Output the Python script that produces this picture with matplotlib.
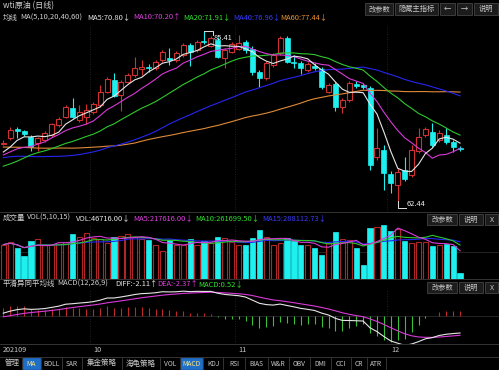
import numpy as np
import pandas as pd
import matplotlib
matplotlib.use('Agg')
import matplotlib.pyplot as plt
from matplotlib.patches import Rectangle

W, H = 499, 370
FONT = ['Noto Sans CJK SC', 'DejaVu Sans']
plt.rcParams['font.family'] = FONT

# ---------------- data ----------------
prior_closes = [71.64, 73.66, 73.06, 73.08, 73.30, 74.05, 72.91, 72.98, 73.47, 75.23,
                75.16, 73.37, 72.20, 72.94, 74.56, 74.10, 75.25, 73.13, 71.65, 71.81,
                66.42, 67.42, 70.30, 71.91, 72.07, 71.91, 71.65, 72.39, 73.62, 73.95,
                71.26, 70.56, 68.15, 69.09, 68.28, 66.48, 68.29, 69.25, 69.09, 68.44,
                67.29, 66.59, 65.46, 63.69, 62.32, 65.64, 67.54, 67.54, 67.42, 68.74,
                69.21, 68.50, 68.59, 69.99, 69.29, 68.35, 69.30, 68.14, 69.72, 70.45]

opens = [70.80, 71.48, 72.75, 72.43, 71.69, 70.84, 71.26, 71.90, 73.21, 74.29,
         75.42, 73.86, 74.29, 74.90, 75.81, 77.53, 79.05, 77.10, 78.83, 79.70,
         80.48, 80.75, 80.57, 81.65, 81.95, 81.65, 82.30, 83.59, 82.94, 84.05,
         83.50, 84.24, 81.87, 82.72, 83.07, 83.98, 83.07, 80.13, 79.31, 81.00,
         82.52, 84.54, 81.43, 81.26, 80.35, 80.91, 80.48, 77.50, 78.53, 75.59,
         76.46, 78.53, 78.40, 77.97, 69.02, 69.97, 66.85, 65.43, 67.37, 66.72,
         69.88, 71.91, 72.34, 71.26, 71.90, 71.04, 70.26]
highs = [71.20, 73.00, 73.00, 72.60, 71.90, 71.70, 72.40, 73.50, 74.30, 75.80,
         76.76, 75.80, 76.00, 76.20, 78.40, 79.50, 79.92, 79.00, 80.00, 82.08,
         81.60, 81.10, 81.70, 83.00, 83.20, 82.80, 83.90, 83.80, 84.30, 85.41,
         84.80, 84.60, 83.20, 84.00, 84.89, 84.30, 83.40, 80.40, 81.50, 82.60,
         84.80, 84.80, 82.30, 81.50, 81.40, 81.30, 80.80, 78.70, 78.80, 76.70,
         78.90, 78.90, 78.60, 78.30, 72.80, 70.60, 67.30, 67.60, 69.10, 70.60,
         72.80, 72.90, 73.47, 72.60, 72.80, 71.30, 70.50]
lows = [70.60, 71.30, 71.50, 71.80, 69.84, 69.90, 71.00, 71.70, 73.00, 74.10,
        74.10, 73.60, 73.40, 74.70, 75.60, 77.30, 76.80, 75.03, 78.60, 79.50,
        79.70, 80.10, 80.40, 81.40, 81.00, 81.40, 82.10, 80.91, 82.70, 83.70,
        83.30, 81.90, 80.61, 82.50, 82.90, 82.60, 79.70, 78.18, 79.00, 80.80,
        82.30, 81.20, 80.57, 79.83, 80.10, 80.30, 77.90, 77.30, 75.07, 74.77,
        76.20, 78.00, 77.90, 67.37, 68.67, 64.78, 64.39, 62.44, 65.90, 66.40,
        69.60, 71.60, 70.40, 71.00, 70.80, 69.75, 69.90]
closes = [70.90, 72.56, 72.45, 72.00, 70.39, 71.48, 72.17, 73.34, 73.99, 75.59,
          74.29, 74.90, 75.16, 75.94, 77.53, 79.18, 77.01, 78.83, 79.70, 80.65,
          80.78, 80.60, 81.43, 82.72, 81.61, 82.52, 83.59, 82.65, 84.02, 83.95,
          84.54, 82.08, 82.94, 83.68, 83.85, 82.94, 80.13, 79.35, 81.26, 82.30,
          84.54, 81.43, 81.22, 80.65, 81.13, 80.65, 78.18, 78.40, 75.59, 76.46,
          78.62, 78.27, 78.10, 68.02, 70.19, 66.94, 65.65, 67.15, 66.17, 69.97,
          71.62, 72.65, 70.62, 72.17, 71.04, 70.39, 70.06]
volumes = [265200, 286000, 239200, 176800, 291200, 312000, 265200, 260000, 273000, 286000,
           343200, 325000, 351000, 317200, 306800, 278200, 325000, 330200, 343200, 325000,
           306800, 299000, 260000, 213200, 304200, 265200, 265200, 312000, 265200, 293800,
           280800, 325000, 317200, 286000, 265200, 265200, 319800, 377000, 325000, 265200,
           278200, 319800, 291200, 260000, 265200, 239200, 182000, 278200, 364000, 306800,
           299000, 241800, 109200, 395200, 397800, 416000, 369200, 384800, 293800, 278200,
           286000, 286000, 254800, 265200, 267800, 254800, 46716]

month_labels = ['202109', '10', '11', '12']
month_start = [0, 13, 34, 56]

title_text = 'wti原油 (日线)'
ma_header = [('均线', '#d0d0d0'), ('MA(5,10,20,40,60)', '#d0d0d0'),
             ('MA5:70.80↓', '#e8e8e8'), ('MA10:70.20↑', '#e040e0'),
             ('MA20:71.91↓', '#30e030'), ('MA40:76.96↓', '#3a3aff'),
             ('MA60:77.44↓', '#e89030')]
ma_header_x = [3, 20, 87, 133, 183, 233, 280]
vol_header = [('成交量', '#d0d0d0'), ('VOL(5,10,15)', '#d0d0d0'),
              ('VOL:46716.00↓', '#e8e8e8'), ('MA5:217616.00↓', '#e040e0'),
              ('MA10:261699.50↓', '#30e030'), ('MA15:288112.73↓', '#3a3aff')]
vol_header_x = [3, 27, 76, 133, 195, 262]
macd_header = [('平滑异同平均线', '#d0d0d0'), ('MACD(12,26,9)', '#d0d0d0'),
               ('DIFF:-2.11↑', '#e8e8e8'), ('DEA:-2.37↑', '#e040e0'),
               ('MACD:0.52↓', '#30e030')]
macd_header_x = [3, 57, 115, 157, 198]
tabs = ['管理', 'MA', 'BOLL', 'SAR', '集金策略', '海龟策略', 'VOL', 'MACD', 'KDJ',
        'RSI', 'BIAS', 'W&R', 'OBV', 'DMI', 'CCI', 'CR', 'ATR']
tab_x = [2, 22, 41, 62, 82, 122, 160, 180, 203, 223, 245, 268, 289, 310, 331, 351, 367, 386]
tab_active = ['MA', 'MACD']

# ---------------- computations ----------------
n = len(closes)
x = np.arange(n)
o = np.array(opens); c = np.array(closes); hi = np.array(highs); lo = np.array(lows)
allc = pd.Series(prior_closes + closes)
mas = {k: allc.rolling(k).mean().values[-n:] for k in (5, 10, 20, 40, 60)}
ema12 = allc.ewm(span=12, adjust=False).mean()
ema26 = allc.ewm(span=26, adjust=False).mean()
diff = (ema12 - ema26)
dea = diff.ewm(span=9, adjust=False).mean()
macd = (2 * (diff - dea)).values[-n:]
diff = diff.values[-n:]; dea = dea.values[-n:]
vs = pd.Series(volumes)
vmas = {k: vs.rolling(k, min_periods=1).mean().values for k in (5, 10, 15)}

RED = '#d03030'
VRED = '#b02626'
CYAN = '#1ef0f0'
MA_COL = {5: '#e6e6e6', 10: '#d83ad8', 20: '#2ec82e', 40: '#2626f0', 60: '#e08a38'}
TXT = '#d0d0d0'
GRID = '#2a2a2a'

fig = plt.figure(figsize=(W / 100, H / 100), dpi=100, facecolor='black')

def ax_at(top, bottom):
    a = fig.add_axes([0, 1 - bottom / H, 1, (bottom - top) / H])
    a.set_facecolor('black')
    for s in a.spines.values():
        s.set_visible(False)
    a.set_xticks([]); a.set_yticks([])
    a.set_xlim(-3.3 / 6.92, (W - 3.3) / 6.92)
    return a

def T(px, py, s, color=TXT, size=5.4, **kw):
    fig.text(px / W, 1 - py / H, s, color=color, fontsize=size, va='center',
             ha=kw.pop('ha', 'left'), family=FONT, **kw)

def box(x0, y0, x1, y1, fc='#1c1c1c', ec='#444444'):
    fig.add_artist(Rectangle((x0 / W, 1 - y1 / H), (x1 - x0) / W, (y1 - y0) / H,
                             transform=fig.transFigure, facecolor=fc, edgecolor=ec,
                             linewidth=0.6))

bounds = [m - 0.5 for m in month_start[1:]]

# ---------------- main panel ----------------
ax = ax_at(25, 212)
ax.set_ylim(61.92, 86.19)
for b in bounds:
    ax.axvline(b, color=GRID, lw=0.6, ls=(0, (1, 2)))
up = c >= o
bl = np.minimum(o, c); bh = np.maximum(o, c)
ax.vlines(x[up], bh[up], hi[up], color=RED, lw=0.8, zorder=2)
ax.vlines(x[up], lo[up], bl[up], color=RED, lw=0.8, zorder=2)
ax.vlines(x[~up], lo[~up], hi[~up], color=CYAN, lw=0.8, zorder=2)
hgt = np.maximum(bh - bl, 0.03)
ax.bar(x[up], hgt[up], bottom=bl[up], width=0.72, facecolor='black', edgecolor=RED,
       lw=0.8, zorder=3)
ax.bar(x[~up], hgt[~up], bottom=bl[~up], width=0.72, facecolor=CYAN, edgecolor=CYAN,
       lw=0.5, zorder=3)
for k in (60, 40, 20, 10, 5):
    ax.plot(x, mas[k], color=MA_COL[k], lw=0.8, zorder=4)
# high / low markers
ih = int(np.argmax(hi)); il = int(np.argmin(lo))
ax.plot([ih, ih + 1.3, ih + 1.3], [hi[ih], hi[ih], hi[ih] - 0.55], color='#e0e0e0', lw=0.7, zorder=5)
ax.text(ih + 1.4, hi[ih] - 0.95, f'{hi[ih]:.2f}', color='#f0f0f0', fontsize=5.4,
        va='center', ha='left', zorder=6)
ax.plot([il, il + 1.2], [lo[il], lo[il]], color='#e0e0e0', lw=0.7, zorder=5)
ax.plot([il, il], [lo[il], lo[il] + 0.9], color='#e0e0e0', lw=0.7, zorder=5)
ax.text(il + 1.3, lo[il] + 0.55, f'{lo[il]:.2f}', color='#f0f0f0', fontsize=5.4,
        va='center', ha='left', zorder=6)

# ---------------- volume panel ----------------
axv = ax_at(224, 279)
axv.set_ylim(0, 424000)
for b in bounds:
    axv.axvline(b, color=GRID, lw=0.6, ls=(0, (1, 2)))
axv.axhline(212000, color=GRID, lw=0.6, zorder=0)
vol = np.array(volumes)
axv.bar(x[up], vol[up], width=0.75, facecolor='black', edgecolor=VRED, lw=0.8)
axv.bar(x[~up], vol[~up], width=0.75, facecolor=CYAN, edgecolor=CYAN, lw=0.5)
axv.plot(x, vmas[15], color='#2626f0', lw=0.8)
axv.plot(x, vmas[10], color='#2ec82e', lw=0.8)
axv.plot(x, vmas[5], color='#d83ad8', lw=0.8)

# ---------------- MACD panel ----------------
axm = ax_at(290, 344)
axm.set_ylim(-3.43, 3.07)
for b in bounds:
    axm.axvline(b, color=GRID, lw=0.6, ls=(0, (1, 2)))
axm.axhline(0, color=GRID, lw=0.6, zorder=0)
pos = macd >= 0
axm.vlines(x[pos], 0, macd[pos], color='#c02828', lw=0.8)
axm.vlines(x[~pos], 0, macd[~pos], color='#38c038', lw=0.8)
axm.plot(x, dea, color='#d83ad8', lw=0.8)
axm.plot(x, diff, color='#e6e6e6', lw=0.8)

# separators
for yy in (212, 279, 344, 357):
    fig.add_artist(plt.Line2D([0, 1], [1 - yy / H] * 2, color='#3c3c3c', lw=0.6,
                              transform=fig.transFigure))

# ---------------- texts ----------------
T(3, 6, title_text, size=5.8)
for (s, col), px in zip(ma_header, ma_header_x):
    T(px, 17.5, s, col)
btns = [('改参数', 365, 393), ('隐藏主指标', 395, 438), ('←', 440, 455), ('→', 457, 472), ('说明', 474, 498)]
for s, x0, x1 in btns:
    box(x0, 3, x1, 15)
    T((x0 + x1) / 2, 9, s, '#c8c8c8', size=5.2, ha='center')

for (s, col), px in zip(vol_header, vol_header_x):
    T(px, 218, s, col)
for (s, col), px in zip(macd_header, macd_header_x):
    T(px, 284, s, col)
for yy in (219.5, 287.5):
    for s, x0, x1 in [('改参数', 427, 457), ('说明', 459, 483), ('X', 485, 498)]:
        box(x0, yy - 5.5, x1, yy + 5.5)
        T((x0 + x1) / 2, yy, s, '#c8c8c8', size=5.2, ha='center')

for lab, m in zip(month_labels, month_start):
    T(3.3 + 6.92 * m - (1 if m == 0 else 0), 350.5, lab, '#c8c8c8', size=5.2)

for i, s in enumerate(tabs):
    x0, x1 = tab_x[i], tab_x[i + 1]
    if s in tab_active:
        box(x0 + 1, 358, x1 - 1, 369, fc='#1f6fc8', ec='#1f6fc8')
        T((x0 + x1) / 2, 363.5, s, '#ffe680', size=4.8, ha='center')
    else:
        T((x0 + x1) / 2, 363.5, s, '#c8c8c8', size=4.8 if s.isascii() else 5.4, ha='center')
    fig.add_artist(plt.Line2D([x1 / W] * 2, [1 - 358 / H, 1 - 369 / H], color='#3c3c3c',
                              lw=0.6, transform=fig.transFigure))

fig.savefig('out.png', dpi=100, facecolor='black')
